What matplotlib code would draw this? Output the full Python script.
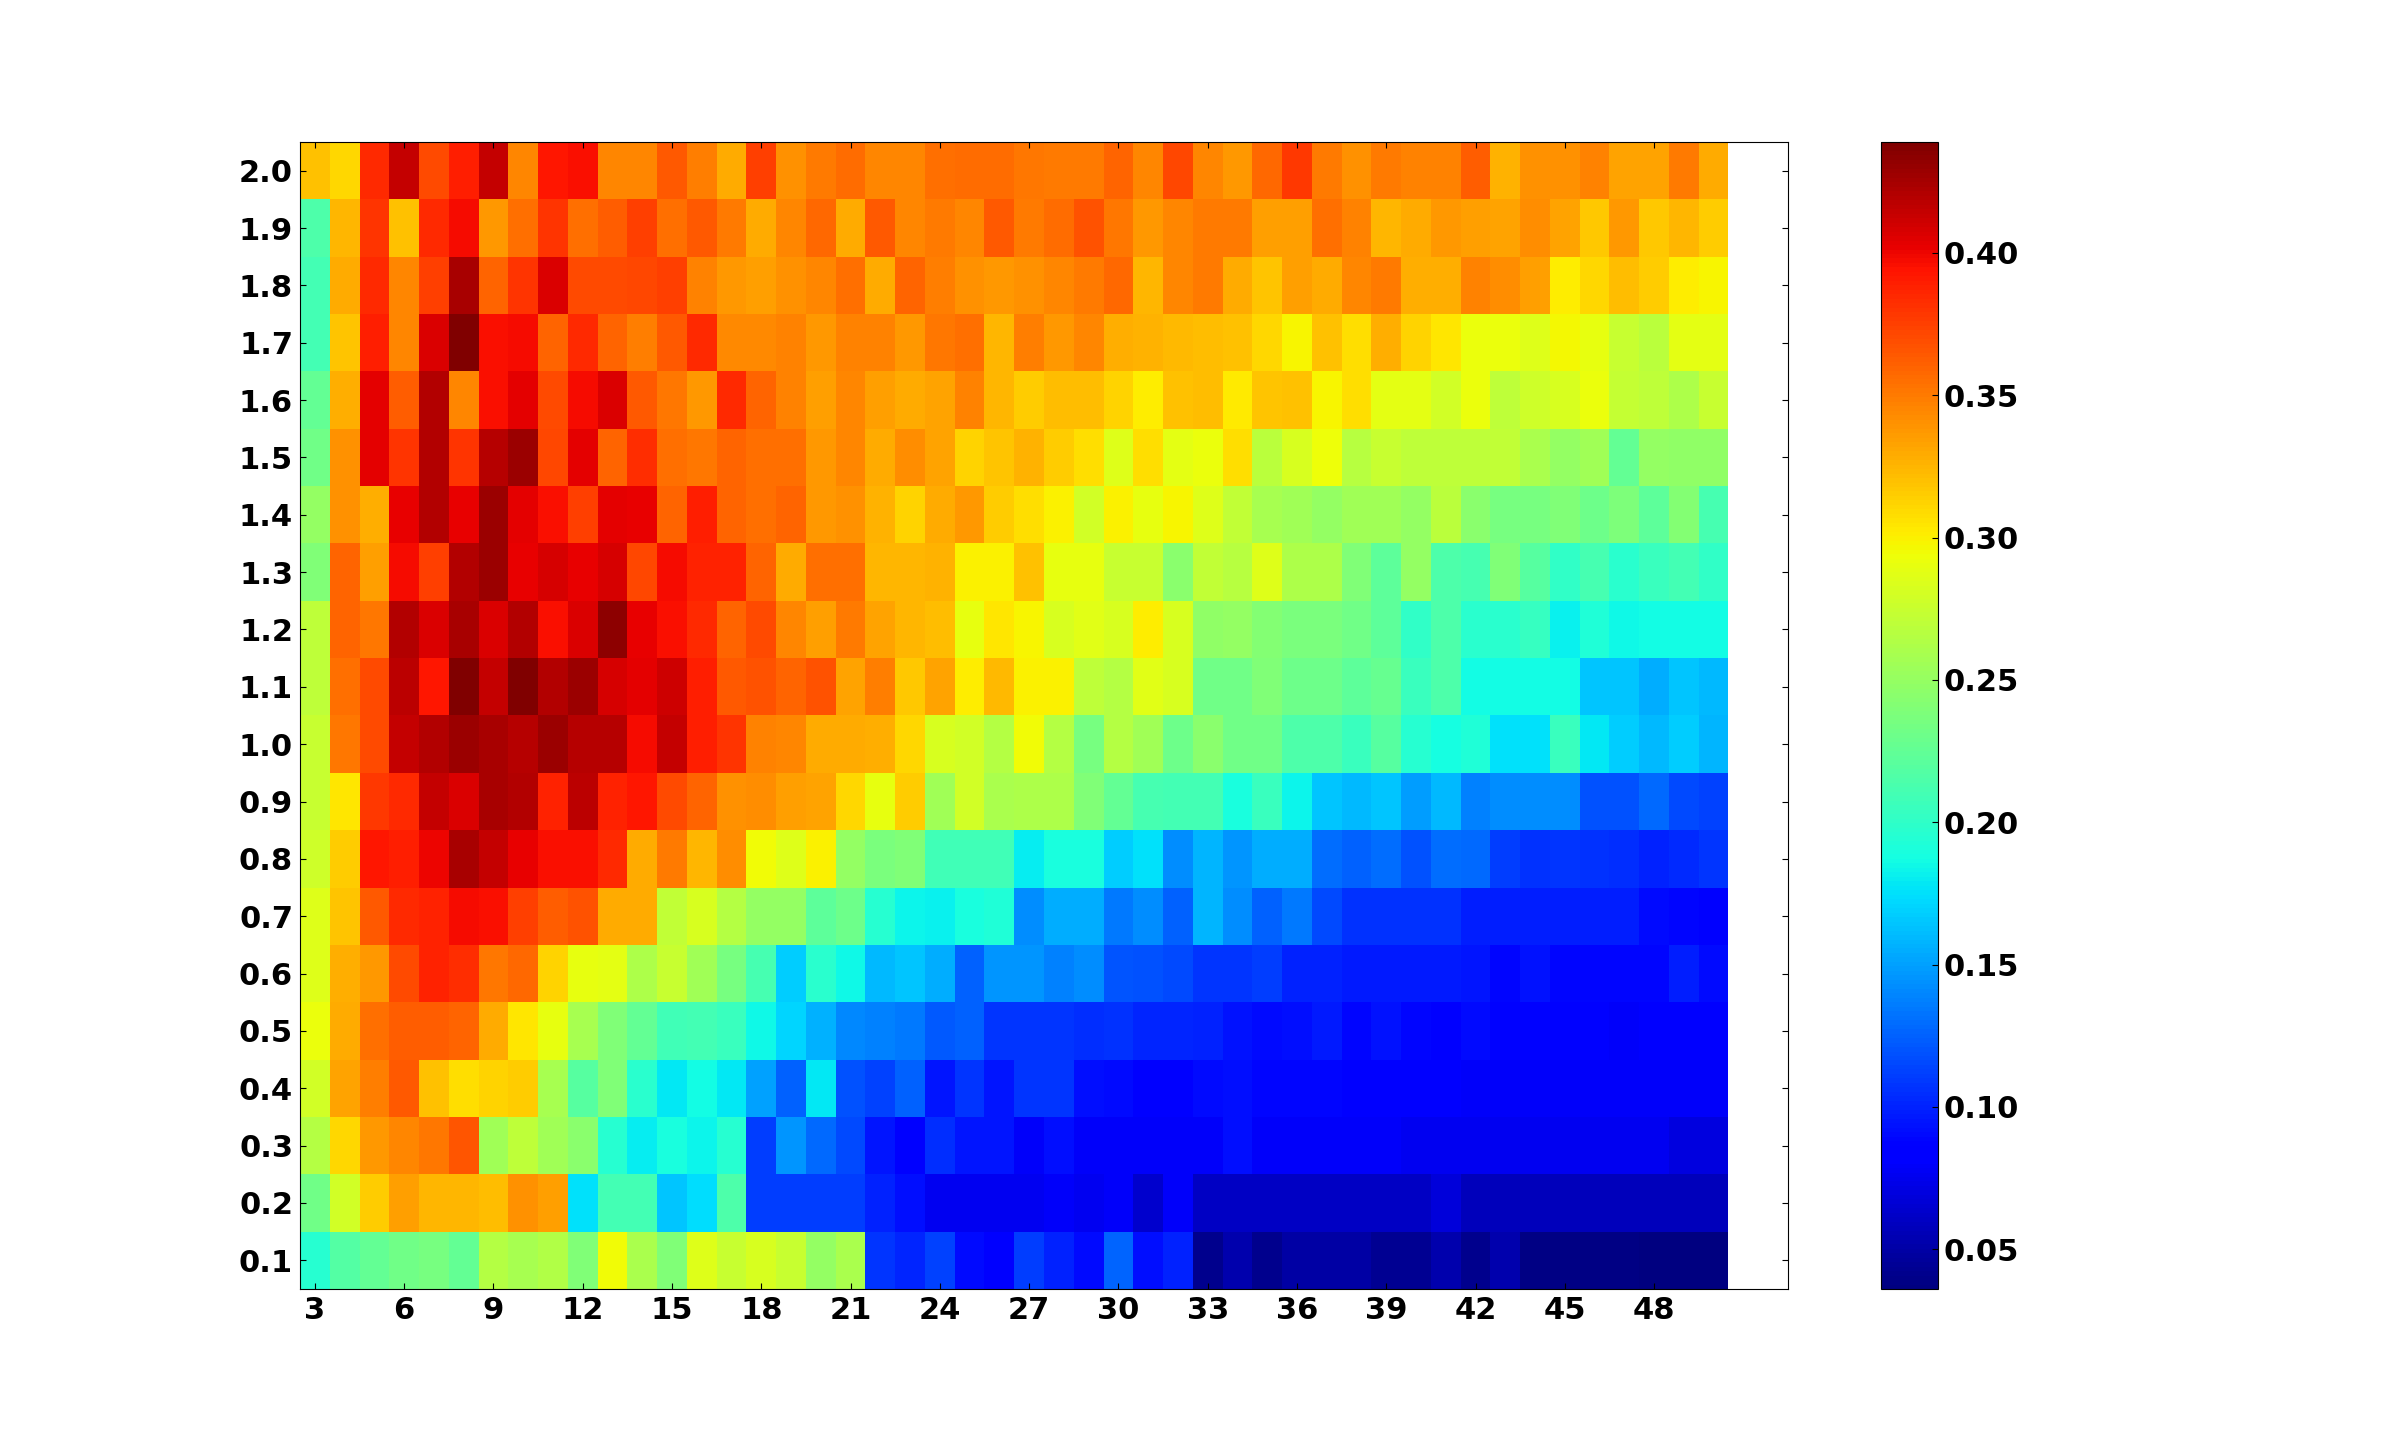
import matplotlib
matplotlib.use('Agg')
import matplotlib.pyplot as plt
import numpy as np

# columns 3..50, rows 0.1..2.0
x_values = list(range(3, 51))
y_values = [round(0.1 * i, 1) for i in range(1, 21)]

row_20 = [.32, .31, .385, .414, .37, .39, .414, .345, .392, .395, .345, .345, .365, .348, .33, .375, .34, .35, .357, .345, .345, .355, .357, .357, .352,
          .35, .35, .36, .345, .372, .345, .338, .358, .378, .35, .34, .35, .347, .347, .362, .327, .34, .34, .347, .332, .332, .35, .33]
row_19 = [.215, .325, .38, .32, .385, .397, .338, .355, .38, .355, .362, .375, .355, .365, .35, .33, .345, .358, .33, .365, .345, .35, .345, .365, .35,
          .357, .367, .352, .338, .345, .35, .35, .335, .335, .355, .347, .325, .33, .338, .335, .332, .342, .332, .317, .337, .317, .325, .315]
row_18 = [.21, .33, .385, .345, .375, .424, .36, .38, .406, .37, .37, .372, .375, .347, .338, .335, .34, .345, .355, .33, .36, .348, .34, .337, .34,
          .345, .35, .358, .325, .345, .35, .33, .318, .335, .33, .345, .35, .328, .328, .347, .342, .335, .302, .31, .322, .315, .302, .298]
row_17 = [.21, .318, .39, .345, .406, .439, .395, .397, .36, .385, .36, .348, .365, .385, .343, .343, .347, .337, .347, .347, .338, .352, .355, .325, .348,
          .337, .345, .328, .327, .323, .322, .32, .31, .298, .32, .307, .328, .312, .305, .292, .292, .285, .297, .29, .275, .268, .288, .288]
row_16 = [.225, .328, .404, .362, .421, .345, .395, .404, .37, .397, .406, .365, .352, .338, .385, .36, .347, .335, .345, .335, .33, .333, .347, .325, .315,
          .322, .322, .312, .302, .32, .322, .303, .318, .32, .298, .307, .288, .288, .28, .292, .27, .278, .283, .292, .273, .27, .262, .275]
row_15 = [.232, .34, .404, .38, .421, .38, .419, .428, .372, .404, .36, .383, .355, .352, .36, .355, .355, .337, .345, .33, .342, .332, .312, .318, .327,
          .315, .307, .285, .308, .288, .292, .307, .268, .283, .293, .267, .275, .27, .27, .27, .272, .26, .25, .255, .225, .25, .248, .248]
row_14 = [.25, .34, .328, .402, .421, .402, .428, .404, .395, .375, .404, .402, .36, .39, .36, .355, .36, .338, .34, .327, .312, .33, .338, .315, .308,
          .30, .28, .30, .29, .298, .285, .272, .258, .255, .25, .255, .255, .25, .268, .245, .235, .235, .24, .23, .238, .222, .242, .212]
row_13 = [.24, .36, .335, .397, .375, .421, .428, .402, .409, .402, .409, .372, .397, .388, .388, .36, .33, .355, .355, .325, .325, .327, .30, .30, .32,
          .29, .29, .275, .275, .245, .272, .267, .285, .262, .262, .24, .222, .25, .215, .212, .24, .22, .20, .212, .197, .205, .21, .20]
row_12 = [.27, .36, .352, .421, .406, .424, .406, .421, .395, .406, .434, .402, .395, .385, .36, .37, .345, .335, .35, .332, .325, .322, .29, .305, .298,
          .283, .287, .283, .302, .283, .247, .25, .242, .236, .236, .232, .222, .20, .215, .198, .198, .203, .182, .192, .185, .187, .187, .187]
row_11 = [.27, .355, .37, .417, .393, .439, .414, .439, .421, .428, .408, .404, .411, .39, .365, .368, .36, .368, .332, .348, .317, .332, .302, .323, .30,
          .30, .27, .265, .287, .283, .232, .232, .24, .23, .23, .222, .228, .205, .215, .187, .186, .186, .187, .165, .165, .155, .165, .16]
row_10 = [.275, .352, .37, .414, .421, .428, .424, .419, .428, .42, .42, .397, .414, .39, .38, .347, .345, .33, .33, .328, .31, .283, .28, .265, .295,
          .265, .235, .265, .255, .23, .245, .232, .232, .215, .215, .205, .22, .195, .188, .192, .175, .175, .205, .178, .168, .16, .168, .158]
row_09 = [.275, .305, .378, .385, .414, .406, .424, .421, .388, .417, .388, .392, .37, .36, .34, .342, .335, .332, .31, .29, .315, .255, .28, .26, .262,
          .262, .24, .225, .212, .21, .21, .19, .205, .183, .165, .16, .165, .148, .16, .138, .142, .142, .142, .118, .118, .128, .115, .112]
row_08 = [.277, .315, .392, .39, .40, .424, .414, .402, .395, .395, .385, .33, .35, .325, .342, .295, .285, .30, .25, .237, .24, .208, .208, .208, .18,
          .19, .19, .167, .175, .143, .158, .145, .155, .155, .13, .125, .13, .118, .13, .128, .11, .106, .107, .106, .105, .10, .103, .107]
row_07 = [.285, .318, .365, .385, .388, .397, .395, .375, .362, .367, .33, .33, .272, .282, .265, .25, .25, .222, .23, .195, .183, .182, .19, .193, .143,
          .155, .155, .135, .142, .125, .158, .142, .125, .135, .115, .106, .106, .106, .106, .098, .098, .098, .098, .098, .098, .09, .088, .084]
row_06 = [.285, .328, .338, .37, .388, .383, .352, .358, .312, .29, .288, .262, .275, .255, .235, .212, .168, .197, .185, .16, .165, .155, .125, .145, .145,
          .138, .142, .12, .118, .115, .107, .107, .11, .10, .10, .096, .096, .096, .096, .095, .088, .093, .088, .088, .088, .088, .098, .09]
row_05 = [.292, .33, .355, .362, .362, .36, .33, .305, .29, .258, .24, .225, .208, .21, .205, .185, .17, .157, .14, .137, .135, .122, .125, .108, .107,
          .108, .104, .106, .102, .102, .10, .094, .091, .092, .097, .088, .093, .088, .084, .09, .087, .087, .087, .087, .08, .085, .082, .082]
row_04 = [.28, .332, .348, .365, .32, .308, .313, .315, .258, .22, .24, .197, .178, .187, .178, .15, .125, .178, .118, .112, .125, .095, .108, .095, .107,
          .108, .092, .09, .086, .086, .09, .092, .088, .088, .088, .082, .082, .082, .082, .08, .08, .08, .08, .08, .08, .08, .08, .08]
row_03 = [.265, .31, .338, .345, .352, .366, .255, .27, .255, .245, .195, .18, .19, .183, .195, .11, .145, .128, .115, .095, .085, .105, .095, .095, .08,
          .092, .08, .08, .08, .08, .08, .092, .08, .08, .08, .08, .08, .076, .076, .076, .076, .076, .076, .076, .076, .076, .07, .07]
row_02 = [.232, .28, .315, .335, .325, .325, .322, .34, .335, .175, .21, .21, .165, .173, .215, .11, .11, .11, .11, .10, .092, .076, .076, .076, .076,
          .08, .076, .08, .064, .08, .06, .06, .06, .06, .06, .06, .06, .06, .068, .057, .057, .057, .057, .057, .057, .057, .057, .057]
row_01 = [.195, .218, .225, .232, .235, .225, .265, .258, .263, .24, .295, .26, .24, .285, .275, .282, .275, .25, .26, .108, .102, .113, .09, .085, .11,
          .10, .09, .127, .092, .10, .042, .053, .041, .05, .05, .05, .043, .043, .052, .042, .052, .038, .038, .038, .038, .037, .036, .036]

rows = [row_01, row_02, row_03, row_04, row_05, row_06, row_07, row_08, row_09, row_10,
        row_11, row_12, row_13, row_14, row_15, row_16, row_17, row_18, row_19, row_20]
Z = np.array(rows)

x_ticks = list(range(3, 49, 3))
cbar_ticks = [0.05, 0.10, 0.15, 0.20, 0.25, 0.30, 0.35, 0.40]

plt.rcParams['font.family'] = 'DejaVu Sans'
plt.rcParams['font.weight'] = 'bold'
plt.rcParams['font.size'] = 22

fig = plt.figure(figsize=(24, 14.32), dpi=100)
ax = fig.add_axes([300 / 2400, 1 - 1289 / 1432, 1488 / 2400, 1147 / 1432])

# edges half a step either side of the values
x_edges = np.array(x_values + [x_values[-1] + 1]) - 0.5
y_edges = np.array(y_values + [y_values[-1] + 0.1]) - 0.05
mesh = ax.pcolormesh(x_edges, y_edges, Z, cmap='jet', vmin=0.036, vmax=0.439)

ax.set_xlim(2.5, 52.5)
ax.set_ylim(0.05, 2.05)
ax.set_xticks(x_ticks)
ax.set_yticks(y_values)
ax.tick_params(direction='in', length=4, width=0.8, top=True, right=True, labelsize=22, pad=5)

cax = fig.add_axes([1881 / 2400, 1 - 1289 / 1432, 57 / 2400, 1147 / 1432])
cbar = fig.colorbar(mesh, cax=cax)
cbar.set_ticks(cbar_ticks)
cbar.set_ticklabels(['%.2f' % t for t in cbar_ticks])
cax.tick_params(direction='in', length=4, width=0.8, labelsize=22, pad=4)

fig.savefig('out.png', dpi=100)
